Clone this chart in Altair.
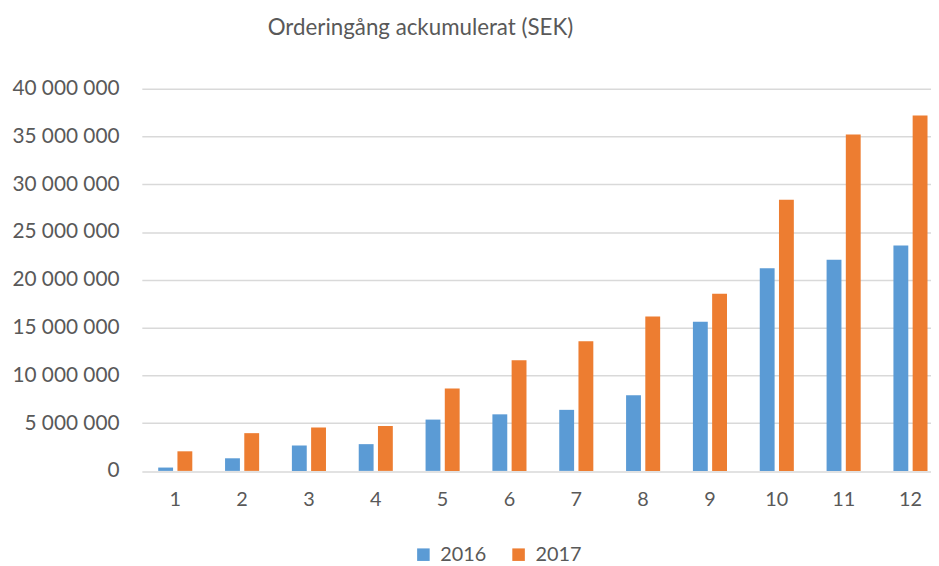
import altair as alt
import pandas as pd

months = [1, 2, 3, 4, 5, 6, 7, 8, 9, 10, 11, 12]
years = ["2016", "2017"]
values_2016 = [350000, 1320000, 2670000, 2800000, 5370000, 5920000, 6390000, 7910000,
               15600000, 21200000, 22100000, 23600000]
values_2017 = [2050000, 3950000, 4540000, 4700000, 8620000, 11580000, 13580000, 16150000,
               18530000, 28370000, 35200000, 37200000]
y_ticks = [0, 5000000, 10000000, 15000000, 20000000, 25000000, 30000000, 35000000, 40000000]
title_text = "Orderingång ackumulerat (SEK)"

rows = []
for m, a, b in zip(months, values_2016, values_2017):
    rows.append({"month": m, "year": years[0], "value": a})
    rows.append({"month": m, "year": years[1], "value": b})
df = pd.DataFrame(rows)

FONT = "Lato"
GREY = "#595959"

chart = alt.Chart(df).mark_bar().encode(
    x=alt.X("month:O", sort=months,
            scale=alt.Scale(paddingInner=0.49, paddingOuter=0.245, range=[1, 810]),
            axis=alt.Axis(title=None, labelAngle=0, domain=False, ticks=False,
                          labelPadding=19, labelFontSize=20, labelColor=GREY, labelFont=FONT)),
    xOffset=alt.XOffset("year:N", scale=alt.Scale(paddingInner=0.227, paddingOuter=0)),
    y=alt.Y("value:Q", scale=alt.Scale(domain=[0, 40000000], nice=False),
            axis=alt.Axis(title=None, values=y_ticks, domain=False, ticks=False,
                          labelPadding=22, labelFontSize=21, labelColor=GREY, labelFont=FONT,
                          gridColor="#d9d9d9", gridWidth=1.5,
                          labelExpr="replace(format(datum.value, ','), regexp(',', 'g'), ' ')")),
    color=alt.Color("year:N", scale=alt.Scale(domain=years, range=["#5B9BD5", "#ED7D31"]),
                    legend=alt.Legend(title=None, orient="none", direction="horizontal",
                                      legendX=275, legendY=460, symbolType="square",
                                      symbolSize=160, symbolStrokeWidth=0, labelOffset=7,
                                      columnPadding=22, labelFontSize=20, labelColor=GREY,
                                      labelFont=FONT)),
).properties(
    width=797,
    height=385.5,
    title=alt.TitleParams(title_text, anchor="start", dx=128, offset=39, frame="group",
                          fontSize=22.5, font=FONT, fontWeight="normal", color=GREY),
    autosize=alt.AutoSizeParams(type="none"),
    padding={"left": 134, "top": 79, "right": 0, "bottom": 92},
).configure_view(stroke=None)

chart.save("out.html", embed_options={"renderer": "svg", "actions": False})
